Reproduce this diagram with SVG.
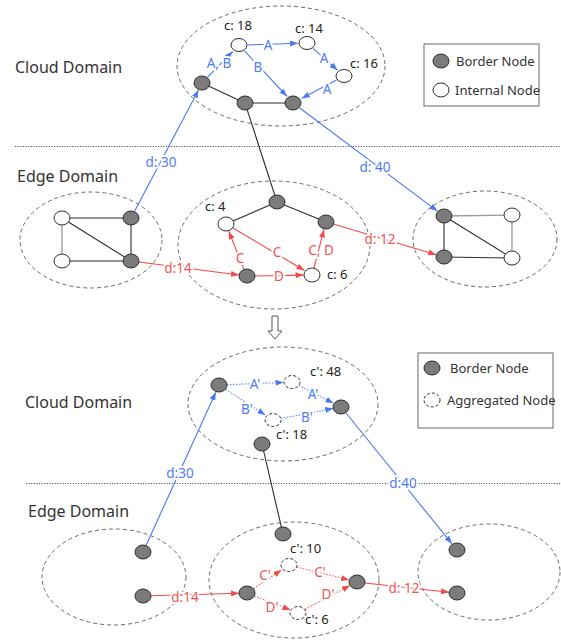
<svg xmlns="http://www.w3.org/2000/svg" width="561" height="640" viewBox="0 0 561 640">
<style>
text{font-family:"Noto Sans","Liberation Sans",sans-serif;dominant-baseline:central}
.dom{font-size:16px;fill:#333}
.lg{font-size:13px;fill:#333}
.cl{font-size:13px;fill:#222}
.lb{font-size:13.5px;text-anchor:middle;paint-order:stroke;stroke:#fff;stroke-width:4px;stroke-linejoin:round}
.lbb{fill:#4d7cf4}
.lbr{fill:#f05454}
.reg{fill:none;stroke:#444;stroke-width:0.8;stroke-dasharray:4 3}
.sep{stroke:#555;stroke-width:1;stroke-dasharray:1.2 1.4}
.bn{fill:#7b7b7b;stroke:#2e2e2e;stroke-width:1}
.in{fill:#fff;stroke:#2e2e2e;stroke-width:1}
.ag{fill:#fff;stroke:#2e2e2e;stroke-width:1;stroke-dasharray:3 2}
.k{stroke:#2e2e2e;stroke-width:1.1;fill:none}
.g{stroke:#999;stroke-width:1.3;fill:none}
.b{stroke:#4a78f2;stroke-width:1.1;fill:none;marker-end:url(#ab)}
.r{stroke:#f04a4a;stroke-width:1.1;fill:none;marker-end:url(#ar)}
.bd{stroke:#6a8ef5;stroke-width:1.1;fill:none;stroke-dasharray:1.6 1.4;marker-end:url(#ab)}
.rd{stroke:#f06a6a;stroke-width:1.1;fill:none;stroke-dasharray:1.6 1.4;marker-end:url(#ar)}
</style>
<defs>
<marker id="ab" markerUnits="userSpaceOnUse" markerWidth="8" markerHeight="6" refX="8" refY="3" orient="auto"><path d="M0,0 L8,3 L0,6 z" fill="#4a78f2"/></marker>
<marker id="ar" markerUnits="userSpaceOnUse" markerWidth="8" markerHeight="6" refX="8" refY="3" orient="auto"><path d="M0,0 L8,3 L0,6 z" fill="#f04a4a"/></marker>
</defs>
<rect width="561" height="640" fill="#fff"/>

<!-- domain titles & separators -->
<text class="dom" x="15" y="67">Cloud Domain</text>
<text class="dom" x="17" y="176">Edge Domain</text>
<text class="dom" x="25" y="402">Cloud Domain</text>
<text class="dom" x="28" y="511">Edge Domain</text>
<line class="sep" x1="15" y1="146.5" x2="561" y2="146.5"/>
<line class="sep" x1="26" y1="483.5" x2="561" y2="483.5"/>

<!-- regions -->
<g id="regions">
<ellipse class="reg" cx="281" cy="66" rx="104" ry="60"/>
<ellipse class="reg" cx="91" cy="240" rx="71" ry="48"/>
<ellipse class="reg" cx="274" cy="245" rx="96" ry="64"/>
<ellipse class="reg" cx="485" cy="239" rx="72" ry="48"/>
<ellipse class="reg" cx="283" cy="404" rx="95" ry="57"/>
<ellipse class="reg" cx="114" cy="577" rx="72" ry="48"/>
<ellipse class="reg" cx="294" cy="580" rx="85" ry="58"/>
<ellipse class="reg" cx="489" cy="572" rx="71" ry="48"/>
</g>

<!-- legends -->
<g id="legend1">
<rect x="424" y="44" width="115" height="62" fill="#fff" stroke="#666" stroke-width="1"/>
<ellipse class="bn" cx="441" cy="61" rx="8" ry="7"/>
<text class="lg" x="456" y="61">Border Node</text>
<ellipse class="in" cx="441" cy="90" rx="8" ry="7"/>
<text class="lg" x="455" y="90">Internal Node</text>
</g>
<g id="legend2">
<rect x="418" y="353" width="135" height="75" fill="#fff" stroke="#666" stroke-width="1"/>
<ellipse class="bn" cx="432" cy="368" rx="8" ry="7"/>
<text class="lg" x="450" y="368">Border Node</text>
<ellipse class="ag" cx="432" cy="400" rx="8" ry="7"/>
<text class="lg" x="447" y="400">Aggregated Node</text>
</g>

<!-- transform arrow -->
<polygon points="272,316 278,316 278,331 282,331 275,339 268,331 272,331" fill="#fff" stroke="#555" stroke-width="1"/>

<g id="connectors">
<!-- top cloud -->
<line class="k" x1="202" y1="83" x2="245" y2="103"/>
<line class="k" x1="245" y1="103" x2="293" y2="103"/>
<line class="b" x1="207.6" y1="77.2" x2="232.7" y2="51.5"/>
<line class="b" x1="248" y1="45" x2="298" y2="43.3"/>
<line class="b" x1="244.5" y1="50.9" x2="287" y2="96.4"/>
<line class="b" x1="313" y1="48.3" x2="337.5" y2="70.2"/>
<line class="b" x1="337" y1="79.7" x2="301.8" y2="98.3"/>
<!-- top edge left -->
<line class="k" x1="62" y1="218" x2="131" y2="218"/>
<line class="g" x1="62" y1="218" x2="62" y2="261"/>
<line class="k" x1="62" y1="218" x2="131" y2="261"/>
<line class="k" x1="131" y1="218" x2="131" y2="261"/>
<line class="k" x1="62" y1="261" x2="131" y2="261"/>
<!-- top edge middle -->
<line class="k" x1="245" y1="103" x2="277" y2="202"/>
<line class="k" x1="226" y1="224" x2="277" y2="202"/>
<line class="k" x1="277" y1="202" x2="326" y2="222"/>
<line class="r" x1="244" y1="269.5" x2="228.8" y2="231.3"/>
<line class="r" x1="233" y1="228" x2="304.5" y2="270.5"/>
<line class="r" x1="255" y1="276" x2="303.5" y2="275.1"/>
<line class="r" x1="314" y1="268" x2="324" y2="229.5"/>
<!-- top edge right -->
<line class="g" x1="444" y1="216" x2="512" y2="215"/>
<line class="g" x1="512" y1="215" x2="512" y2="258"/>
<line class="k" x1="444" y1="216" x2="512" y2="258"/>
<line class="k" x1="444" y1="216" x2="444" y2="257"/>
<line class="k" x1="444" y1="257" x2="512" y2="258"/>
<!-- inter-domain top -->
<line class="b" x1="134.7" y1="211" x2="198.5" y2="90"/>
<line class="b" x1="299.4" y1="107.8" x2="437.4" y2="211.1"/>
<line class="r" x1="139" y1="262" x2="239" y2="275"/>
<line class="r" x1="334" y1="224.3" x2="436.3" y2="254.7"/>
<!-- bottom cloud -->
<line class="bd" x1="227" y1="384.7" x2="283.5" y2="382.4"/>
<line class="bd" x1="299" y1="385.6" x2="333.6" y2="403.2"/>
<line class="bd" x1="225.7" y1="389.4" x2="265.4" y2="415.1"/>
<line class="bd" x1="281" y1="418.5" x2="333.2" y2="408.5"/>
<!-- bottom edge middle -->
<line class="k" x1="262" y1="444" x2="283" y2="534"/>
<line class="rd" x1="253.7" y1="588.6" x2="281.5" y2="570"/>
<line class="rd" x1="297" y1="567" x2="349.2" y2="580"/>
<line class="rd" x1="254.4" y1="596" x2="290.5" y2="610"/>
<line class="rd" x1="305" y1="609.3" x2="350" y2="585.6"/>
<!-- inter-domain bottom -->
<line class="b" x1="146" y1="545.6" x2="215.8" y2="392.3"/>
<line class="b" x1="346" y1="413" x2="452" y2="543.8"/>
<line class="r" x1="151" y1="595.8" x2="239" y2="593.2"/>
<line class="r" x1="365" y1="583" x2="449" y2="592.2"/>
</g>

<g id="labels">
<text class="lb lbb" x="219" y="63">A, B</text>
<text class="lb lbb" x="268" y="45">A</text>
<text class="lb lbb" x="258" y="67">B</text>
<text class="lb lbb" x="324" y="58">A</text>
<text class="lb lbb" x="327" y="89">A</text>
<text class="lb lbb" x="161" y="162">d: 30</text>
<text class="lb lbb" x="375" y="167">d: 40</text>
<text class="lb lbr" x="178" y="268">d:14</text>
<text class="lb lbr" x="380" y="239">d: 12</text>
<text class="lb lbr" x="240" y="258">C</text>
<text class="lb lbr" x="277" y="252">C</text>
<text class="lb lbr" x="279" y="276">D</text>
<text class="lb lbr" x="321" y="250">C, D</text>
<text class="lb lbb" x="255" y="384">A'</text>
<text class="lb lbb" x="313" y="394">A'</text>
<text class="lb lbb" x="247" y="409">B'</text>
<text class="lb lbb" x="307" y="417">B'</text>
<text class="lb lbb" x="180" y="473">d:30</text>
<text class="lb lbb" x="403" y="483">d:40</text>
<text class="lb lbr" x="265" y="575">C'</text>
<text class="lb lbr" x="320" y="572">C'</text>
<text class="lb lbr" x="272" y="607">D'</text>
<text class="lb lbr" x="328" y="594">D'</text>
<text class="lb lbr" x="185" y="597">d:14</text>
<text class="lb lbr" x="404" y="588">d: 12</text>
<text class="cl" x="224" y="25">c: 18</text>
<text class="cl" x="295" y="28">c: 14</text>
<text class="cl" x="350" y="63">c: 16</text>
<text class="cl" x="205" y="206">c: 4</text>
<text class="cl" x="327" y="274">c: 6</text>
<text class="cl" x="310" y="371">c': 48</text>
<text class="cl" x="276" y="434">c': 18</text>
<text class="cl" x="290" y="548">c': 10</text>
<text class="cl" x="305" y="619">c': 6</text>
</g>

<!-- nodes: top cloud -->
<g id="tc_bl"><ellipse class="bn" cx="202" cy="83" rx="8" ry="7"/></g>
<g id="tc_bm"><ellipse class="bn" cx="245" cy="103" rx="8" ry="7"/></g>
<g id="tc_br"><ellipse class="bn" cx="293" cy="103" rx="8" ry="7"/></g>
<g id="tc_c18"><ellipse class="in" cx="239" cy="45" rx="8" ry="6.5"/></g>
<g id="tc_c14"><ellipse class="in" cx="307" cy="43" rx="8" ry="6.5"/></g>
<g id="tc_c16"><ellipse class="in" cx="344" cy="76" rx="8" ry="6.5"/></g>
<!-- top edge left -->
<g id="te_lw1"><ellipse class="in" cx="62" cy="218" rx="8" ry="7"/></g>
<g id="te_lg1"><ellipse class="bn" cx="131" cy="218" rx="8" ry="7"/></g>
<g id="te_lw2"><ellipse class="in" cx="62" cy="261" rx="8" ry="7"/></g>
<g id="te_lg2"><ellipse class="bn" cx="131" cy="261" rx="8" ry="7"/></g>
<!-- top edge middle -->
<g id="te_mt"><ellipse class="bn" cx="277" cy="202" rx="8" ry="7"/></g>
<g id="te_c4"><ellipse class="in" cx="226" cy="224" rx="8" ry="7"/></g>
<g id="te_mr"><ellipse class="bn" cx="326" cy="222" rx="8" ry="7"/></g>
<g id="te_mb"><ellipse class="bn" cx="247" cy="276" rx="8" ry="7"/></g>
<g id="te_c6"><ellipse class="in" cx="312" cy="275" rx="8" ry="7"/></g>
<!-- top edge right -->
<g id="te_rg1"><ellipse class="bn" cx="444" cy="216" rx="8" ry="7"/></g>
<g id="te_rw1"><ellipse class="in" cx="512" cy="215" rx="8" ry="7"/></g>
<g id="te_rg2"><ellipse class="bn" cx="444" cy="257" rx="8" ry="7"/></g>
<g id="te_rw2"><ellipse class="in" cx="512" cy="258" rx="8" ry="7"/></g>
<!-- bottom cloud -->
<g id="bc_bl"><ellipse class="bn" cx="219" cy="385" rx="8" ry="7"/></g>
<g id="bc_ag48"><ellipse class="ag" cx="292" cy="382" rx="8" ry="6.5"/></g>
<g id="bc_br"><ellipse class="bn" cx="341" cy="407" rx="8" ry="7"/></g>
<g id="bc_ag18"><ellipse class="ag" cx="273" cy="420" rx="8" ry="6.5"/></g>
<g id="bc_bm"><ellipse class="bn" cx="262" cy="444" rx="8" ry="7"/></g>
<!-- bottom edge -->
<g id="be_l1"><ellipse class="bn" cx="143" cy="552" rx="8" ry="7"/></g>
<g id="be_l2"><ellipse class="bn" cx="143" cy="596" rx="8" ry="7"/></g>
<g id="be_mt"><ellipse class="bn" cx="283" cy="534" rx="8" ry="7"/></g>
<g id="be_ag10"><ellipse class="ag" cx="289" cy="565" rx="8" ry="6.5"/></g>
<g id="be_mr"><ellipse class="bn" cx="357" cy="582" rx="8" ry="7"/></g>
<g id="be_ml"><ellipse class="bn" cx="247" cy="593" rx="8" ry="7"/></g>
<g id="be_ag6"><ellipse class="ag" cx="298" cy="613" rx="8" ry="6.5"/></g>
<g id="be_r1"><ellipse class="bn" cx="457" cy="550" rx="8" ry="7"/></g>
<g id="be_r2"><ellipse class="bn" cx="457" cy="593" rx="8" ry="7"/></g>
</svg>
